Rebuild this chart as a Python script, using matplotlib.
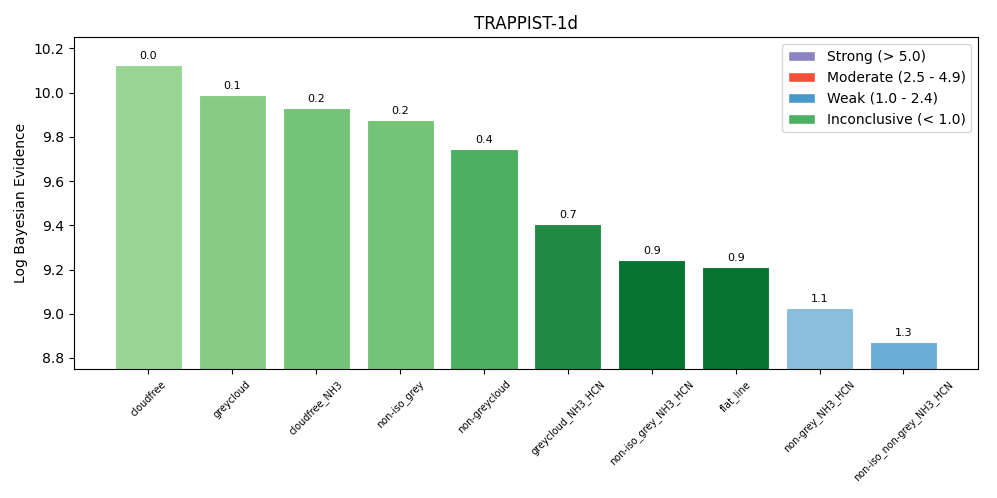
import matplotlib
matplotlib.use("Agg")
import matplotlib.pyplot as plt
import matplotlib.patches as mpatches
import numpy as np

# model names and log evidence
models = ["cloudfree", "greycloud", "cloudfree_NH3", "non-iso_grey", "non-greycloud",
          "greycloud_NH3_HCN", "non-iso_grey_NH3_HCN", "flat_line",
          "non-grey_NH3_HCN", "non-iso_non-grey_NH3_HCN"]
log_evidence = [10.123, 9.988, 9.929, 9.875, 9.744, 9.405, 9.242, 9.211, 9.026, 8.872]
bar_colors = ["#98d594", "#86cc85", "#73c476", "#73c476", "#4bb062",
              "#228a44", "#087432", "#087432", "#89bedc", "#6aaed6"]

legend_labels = ["Strong (> 5.0)", "Moderate (2.5 - 4.9)", "Weak (1.0 - 2.4)", "Inconclusive (< 1.0)"]
legend_colors = ["#8a84c0", "#f44f39", "#4a98c9", "#4bb062"]

fig, ax = plt.subplots(figsize=(9.97, 4.98), dpi=100)
x = np.arange(len(models))
bars = ax.bar(x, log_evidence, color=bar_colors, edgecolor="white", linewidth=0.8)

# delta log evidence above each bar
best = max(log_evidence)
for b, v in zip(bars, log_evidence):
    ax.annotate("%.1f" % (best - v), (b.get_x() + b.get_width() / 2, v),
                xytext=(0, 3), textcoords="offset points", ha="center", va="bottom", fontsize=8)

ax.set_ylim(8.75, 10.25)
ax.set_xticks(x)
ax.set_xticklabels(models, rotation=45, fontsize=7)
ax.set_ylabel("Log Bayesian Evidence")
ax.set_title("TRAPPIST-1d")

handles = [mpatches.Patch(facecolor=c, edgecolor="white", label=l) for c, l in zip(legend_colors, legend_labels)]
ax.legend(handles=handles, loc="upper right")

fig.subplots_adjust(left=0.074, right=0.981, top=0.925, bottom=0.259)
fig.savefig("out.png")
